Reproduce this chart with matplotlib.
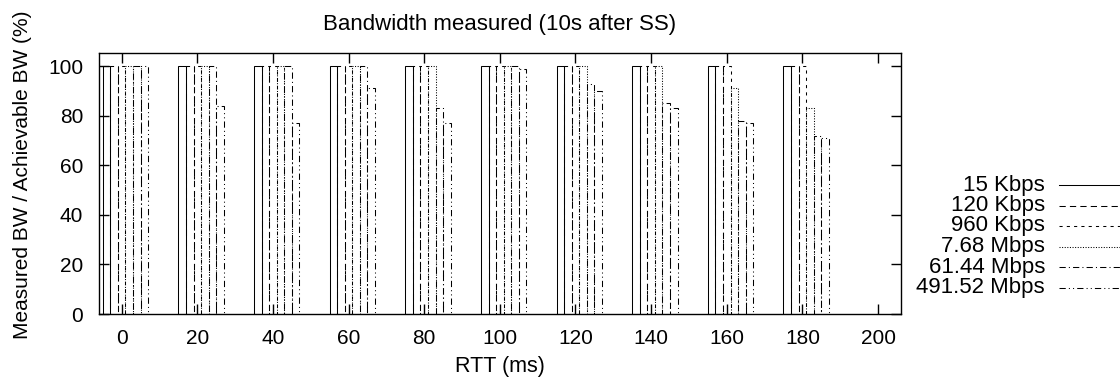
import numpy as np
import matplotlib.pyplot as plt
from matplotlib.lines import Line2D

plt.rcParams['font.family'] = ['Liberation Sans', 'DejaVu Sans']
plt.rcParams['font.size'] = 15

rtt = [0, 20, 40, 60, 80, 100, 120, 140, 160, 180]
etiketler = ['15 Kbps', '120 Kbps', '960 Kbps', '7.68 Mbps', '61.44 Mbps', '491.52 Mbps']
bw_15k = [100, 100, 100, 100, 100, 100, 100, 100, 100, 100]
bw_120k = [100, 100, 100, 100, 100, 100, 100, 100, 100, 100]
bw_960k = [100, 100, 100, 100, 100, 100, 100, 100, 100, 100]
bw_7m = [100, 100, 100, 100, 100, 100, 100, 100, 91, 83]
bw_61m = [100, 100, 100, 100, 83, 100, 93, 85, 78, 72]
bw_491m = [100, 84, 77, 91, 77, 99, 90, 83, 77, 71]
seriler = [bw_15k, bw_120k, bw_960k, bw_7m, bw_61m, bw_491m]

# gnuplot benzeri cizgi tipleri
stiller = ['-', (0, (6, 4)), (0, (3, 4)), (0, (1, 1.5)), (0, (6, 3, 1, 3)), (0, (6, 3, 1, 3, 1, 3))]
kaydirma = [-4, -2, 0, 2, 4, 6]
genislik = 2
lw = 0.75

fig = plt.figure(figsize=(11.2, 3.78), dpi=100)
ax = fig.add_axes([99 / 1120, 1 - 314 / 378, (900.7 - 99) / 1120, (314 - 53.3) / 378])

x = np.array(rtt)
for seri, stil, k in zip(seriler, stiller, kaydirma):
    ax.bar(x + k, seri, width=genislik, fill=False, edgecolor='black',
           linewidth=lw, linestyle=stil)

ax.set_xlim(-6, 206)
ax.set_ylim(0, 105.2)
ax.set_xticks(np.arange(0, 201, 20))
ax.set_yticks(np.arange(0, 101, 20))
ax.tick_params(direction='in', length=7, width=1, top=True, right=True, labelsize=15)
ax.tick_params(axis='x', pad=10.5)
ax.tick_params(axis='y', pad=11.5)
for s in ax.spines.values():
    s.set_linewidth(1)

ax.set_title('Bandwidth measured (10s after SS)', fontsize=16, pad=17)
ax.set_xlabel('RTT (ms)', fontsize=15.5, labelpad=6)
ax.set_ylabel('Measured BW / Achievable BW (%)', fontsize=15)
ax.yaxis.set_label_coords(-0.083, 0.533)

# anahtar (gnuplot tarzi: yazi sagda hizali, cizgi sag tarafta)
y0 = 1 - 185 / 378
adim = 20.5 / 378
for i, (etiket, stil) in enumerate(zip(etiketler, stiller)):
    yy = y0 - i * adim
    fig.text(1045 / 1120, yy, etiket, ha='right', va='center', fontsize=16)
    fig.add_artist(Line2D([1059 / 1120, 1.01], [yy, yy], color='black',
                          linewidth=lw, linestyle=stil, transform=fig.transFigure))

fig.savefig('out.png', dpi=100)
